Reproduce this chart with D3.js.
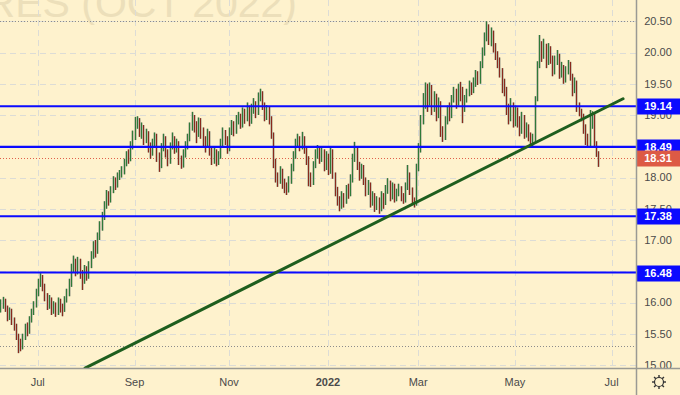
<!DOCTYPE html>
<html>
<head>
<meta charset="utf-8">
<script src="https://cdn.jsdelivr.net/npm/d3@7"></script>
<style>
  html, body { margin: 0; padding: 0; background: #fef2cd; }
  svg { display: block; font-family: "Liberation Sans", Arial, sans-serif; }
</style>
</head>
<body>
<svg id="chart" width="680" height="395"></svg>
<script>
// daily closes, one per trading day starting 2021-06-08
const closes = [
  15.95, 16.02, 15.90, 15.78, 15.85, 15.70, 15.62, 15.45, 15.35, 15.28,
  15.45, 15.60, 15.55, 15.72, 15.85, 15.95, 16.15, 16.30, 16.40, 16.25,
  16.10, 15.95, 16.05, 15.88, 15.95, 15.85, 16.00, 15.92, 15.88, 16.05,
  16.15, 16.30, 16.55, 16.62, 16.50, 16.68, 16.45, 16.35, 16.55, 16.42,
  16.60, 16.75, 16.92, 16.80, 17.05, 17.20, 17.38, 17.55, 17.72, 17.65,
  17.80, 17.95, 17.88, 18.02, 18.05, 18.10, 18.22, 18.35, 18.30, 18.50,
  18.65, 18.88, 18.92, 18.75, 18.80, 18.62, 18.70, 18.50, 18.40, 18.55,
  18.65, 18.35, 18.20, 18.48, 18.60, 18.40, 18.25, 18.50, 18.62, 18.45,
  18.55, 18.30, 18.20, 18.38, 18.50, 18.62, 18.80, 18.95, 18.85, 18.70,
  18.90, 18.75, 18.60, 18.52, 18.70, 18.45, 18.30, 18.40, 18.25, 18.35,
  18.55, 18.70, 18.62, 18.45, 18.72, 18.85, 18.75, 18.92, 18.98, 18.85,
  19.05, 18.95, 19.12, 18.90, 19.10, 19.18, 19.05, 19.30, 19.35, 19.15,
  19.00, 19.10, 18.95, 18.70, 18.25, 18.00, 17.95, 18.10, 17.92, 17.85,
  17.80, 17.95, 18.15, 18.35, 18.55, 18.60, 18.50, 18.62, 18.45, 18.30,
  18.00, 17.92, 18.20, 18.38, 18.45, 18.30, 18.42, 18.18, 18.35, 18.10,
  18.40, 18.05, 17.80, 17.65, 17.55, 17.70, 17.62, 17.80, 17.75, 17.95,
  18.30, 18.45, 18.20, 18.05, 18.15, 17.95, 17.80, 17.88, 17.65, 17.70,
  17.55, 17.62, 17.50, 17.70, 17.60, 17.80, 17.90, 17.72, 17.85, 17.68,
  17.75, 17.82, 17.70, 17.65, 17.85, 18.05, 17.80, 17.62, 17.58, 18.15,
  18.45, 18.90, 19.20, 19.40, 19.30, 19.45, 19.15, 19.30, 19.05, 19.20,
  18.75, 18.65, 18.90, 19.05, 19.00, 19.25, 19.35, 19.20, 19.40, 19.30,
  19.10, 19.25, 19.35, 19.45, 19.40, 19.50, 19.62, 19.55, 19.80, 20.00,
  20.25, 20.40, 20.20, 20.30, 20.10, 19.95, 19.85, 19.70, 19.50, 19.40,
  19.10, 18.95, 19.15, 18.85, 19.05, 18.90, 18.75, 18.95, 18.70, 18.80,
  18.65, 18.55, 18.62, 19.25, 19.80, 20.10, 19.95, 20.10, 19.85, 20.05,
  19.90, 19.70, 19.85, 19.95, 19.65, 19.75, 19.55, 19.70, 19.80, 19.62,
  19.40, 19.50, 19.15, 19.05, 18.98, 18.80, 18.60, 18.52, 18.85, 19.00,
  18.55, 18.40, 18.31
]

const highs = [
  16.05, 16.09, 16.06, 15.95, 15.92, 15.90, 15.76, 15.66, 15.50, 15.42,
  15.50, 15.66, 15.68, 15.78, 15.90, 16.02, 16.22, 16.38, 16.47, 16.44,
  16.30, 16.15, 16.12, 16.08, 16.02, 16.00, 16.08, 16.06, 15.98, 16.10,
  16.22, 16.38, 16.62, 16.75, 16.70, 16.73, 16.70, 16.52, 16.60, 16.58,
  16.66, 16.82, 16.98, 17.00, 17.12, 17.30, 17.45, 17.62, 17.80, 17.78,
  17.86, 18.02, 18.00, 18.08, 18.12, 18.18, 18.30, 18.42, 18.45, 18.58,
  18.75, 18.97, 18.98, 18.95, 18.88, 18.84, 18.78, 18.74, 18.56, 18.62,
  18.72, 18.70, 18.40, 18.55, 18.70, 18.66, 18.45, 18.56, 18.72, 18.66,
  18.62, 18.58, 18.35, 18.45, 18.58, 18.70, 18.88, 19.05, 19.00, 18.90,
  18.96, 18.95, 18.80, 18.66, 18.78, 18.74, 18.50, 18.48, 18.45, 18.42,
  18.62, 18.80, 18.76, 18.66, 18.80, 18.92, 18.90, 19.00, 19.05, 19.02,
  19.12, 19.10, 19.20, 19.15, 19.18, 19.27, 19.22, 19.36, 19.42, 19.38,
  19.20, 19.16, 19.14, 18.98, 18.72, 18.30, 18.08, 18.18, 18.14, 17.98,
  17.92, 18.02, 18.22, 18.42, 18.62, 18.70, 18.66, 18.73, 18.66, 18.50,
  18.34, 18.08, 18.26, 18.45, 18.52, 18.50, 18.50, 18.45, 18.42, 18.38,
  18.50, 18.45, 18.08, 17.85, 17.70, 17.78, 17.75, 17.88, 17.90, 18.05,
  18.38, 18.57, 18.50, 18.25, 18.22, 18.20, 18.00, 17.96, 17.92, 17.78,
  17.75, 17.70, 17.68, 17.78, 17.75, 17.88, 17.99, 17.95, 17.92, 17.90,
  17.82, 17.90, 17.86, 17.75, 17.92, 18.20, 18.08, 17.84, 17.68, 18.22,
  18.55, 19.00, 19.35, 19.52, 19.50, 19.52, 19.48, 19.38, 19.34, 19.28,
  19.22, 18.82, 18.98, 19.15, 19.20, 19.32, 19.45, 19.42, 19.50, 19.53,
  19.45, 19.32, 19.42, 19.55, 19.52, 19.60, 19.72, 19.70, 19.86, 20.08,
  20.32, 20.50, 20.45, 20.40, 20.35, 20.15, 20.02, 19.92, 19.75, 19.58,
  19.45, 19.18, 19.27, 19.20, 19.15, 19.12, 18.98, 19.05, 19.00, 18.88,
  18.85, 18.72, 18.70, 19.30, 19.86, 20.28, 20.18, 20.22, 20.14, 20.15,
  20.10, 19.95, 19.95, 20.04, 19.98, 19.85, 19.80, 19.78, 19.88, 19.85,
  19.66, 19.60, 19.55, 19.20, 19.10, 19.02, 18.85, 18.70, 19.08, 19.06,
  19.02, 18.58, 18.42
]

const lows = [
  15.84, 15.90, 15.85, 15.70, 15.72, 15.64, 15.55, 15.40, 15.19, 15.22,
  15.25, 15.40, 15.46, 15.50, 15.68, 15.80, 15.92, 16.10, 16.25, 16.18,
  16.02, 15.88, 15.90, 15.80, 15.82, 15.77, 15.80, 15.84, 15.78, 15.85,
  16.00, 16.10, 16.25, 16.48, 16.42, 16.45, 16.38, 16.20, 16.30, 16.35,
  16.38, 16.55, 16.70, 16.72, 16.78, 17.00, 17.15, 17.32, 17.50, 17.55,
  17.60, 17.75, 17.80, 17.84, 17.96, 18.00, 18.05, 18.18, 18.22, 18.26,
  18.45, 18.60, 18.78, 18.65, 18.62, 18.52, 18.55, 18.40, 18.30, 18.35,
  18.48, 18.25, 18.09, 18.15, 18.42, 18.32, 18.18, 18.22, 18.45, 18.38,
  18.40, 18.20, 18.14, 18.16, 18.32, 18.45, 18.58, 18.75, 18.72, 18.55,
  18.65, 18.62, 18.48, 18.40, 18.48, 18.35, 18.20, 18.22, 18.18, 18.20,
  18.30, 18.50, 18.52, 18.38, 18.42, 18.68, 18.66, 18.70, 18.85, 18.78,
  18.80, 18.86, 18.90, 18.82, 18.86, 19.02, 18.95, 19.00, 19.22, 19.08,
  18.90, 18.92, 18.85, 18.62, 18.15, 17.92, 17.85, 17.90, 17.82, 17.75,
  17.72, 17.76, 17.90, 18.10, 18.30, 18.48, 18.42, 18.45, 18.38, 18.20,
  17.86, 17.85, 17.88, 18.15, 18.30, 18.22, 18.25, 18.10, 18.12, 18.04,
  18.06, 17.98, 17.70, 17.55, 17.46, 17.50, 17.52, 17.58, 17.66, 17.70,
  17.92, 18.25, 18.12, 17.95, 17.98, 17.88, 17.70, 17.72, 17.52, 17.55,
  17.45, 17.48, 17.42, 17.46, 17.50, 17.56, 17.74, 17.62, 17.65, 17.60,
  17.62, 17.70, 17.62, 17.58, 17.60, 17.80, 17.72, 17.56, 17.52, 17.55,
  18.10, 18.40, 18.85, 19.10, 19.05, 19.15, 19.00, 19.05, 18.90, 18.95,
  18.65, 18.57, 18.60, 18.85, 18.90, 18.95, 19.20, 19.10, 19.15, 19.22,
  18.87, 19.05, 19.20, 19.30, 19.32, 19.35, 19.45, 19.48, 19.50, 19.75,
  19.95, 20.18, 20.12, 20.10, 20.00, 19.88, 19.75, 19.60, 19.35, 19.30,
  19.00, 18.85, 18.90, 18.80, 18.82, 18.80, 18.66, 18.70, 18.62, 18.64,
  18.58, 18.50, 18.48, 18.55, 19.22, 19.75, 19.85, 19.90, 19.75, 19.80,
  19.82, 19.62, 19.65, 19.80, 19.58, 19.60, 19.50, 19.52, 19.65, 19.55,
  19.30, 19.35, 19.05, 18.98, 18.90, 18.70, 18.52, 18.48, 18.50, 18.78,
  18.48, 18.33, 18.17
]

const firstOpen = 15.90
const firstDay = '2021-06-08'

// horizontal support / resistance levels drawn in blue
const levels = [19.14, 18.49, 17.38, 16.48]
const lastPrice = 18.31
// gray dotted range lines
const rangeLines = [20.50, 15.30]
// green trend line, [bar index, price]
const trendLine = [[38.5, 14.95], [283.2, 19.26]]

const priceTicks = [15.00, 15.50, 16.00, 16.50, 17.00, 17.50, 18.00, 18.50, 19.00, 19.50, 20.00, 20.50]
const monthStarts = ['2021-07-01', '2021-09-01', '2021-11-01', '2022-01-03', '2022-03-01', '2022-05-02', '2022-07-01']
const monthLabels = ['Jul', 'Sep', 'Nov', '2022', 'Mar', 'May', 'Jul']

const title = 'SUGAR NO.11 FUTURES (OCT 2022)'

document.addEventListener('DOMContentLoaded', start)

function start () {
  const svg = d3.select('#chart')
  const plotW = 636
  const plotH = 368
  const days = tradingDays(firstDay, 290)
  const x = d3.scaleLinear().domain([0, 278]).range([0.4, 611.6])
  const y = d3.scaleLinear().domain([15, 20.5]).range([365, 21.25])

  svg.append('rect').attr('width', 680).attr('height', 395).attr('fill', '#fef2cd')

  // watermark, top half runs off the page like the original
  svg.append('text')
    .attr('x', 297).attr('y', 16.5)
    .attr('text-anchor', 'end')
    .attr('font-size', 41)
    .attr('fill', '#ecdfba')
    .text(title)

  svg.append('clipPath').attr('id', 'plotClip')
    .append('rect').attr('width', plotW).attr('height', plotH)

  const plot = svg.append('g').attr('clip-path', 'url(#plotClip)')

  drawGrid(plot, x, y, days, plotW, plotH)
  drawRefLines(plot, y, plotW)
  drawBars(plot, x, y)
  drawTrend(plot, x, y)
  drawAxes(svg, x, y, days, plotW, plotH)
}

function tradingDays (from, count) {
  const out = []
  let d = d3.timeParse('%Y-%m-%d')(from)
  while (out.length < count) {
    const wd = d.getDay()
    if (wd !== 0 && wd !== 6) out.push(d)
    d = d3.timeDay.offset(d, 1)
  }
  return out
}

function dayIndex (days, s) {
  const fmt = d3.timeFormat('%Y-%m-%d')
  return days.findIndex(d => fmt(d) === s)
}

function drawGrid (g, x, y, days, w, h) {
  g.selectAll('.hgrid')
    .data(priceTicks)
    .enter().append('line')
    .attr('x1', 0).attr('x2', w)
    .attr('y1', d => Math.round(y(d)) + 0.5)
    .attr('y2', d => Math.round(y(d)) + 0.5)
    .attr('stroke', '#dcdcd6')
    .attr('stroke-dasharray', '6,4')

  g.selectAll('.vgrid')
    .data(monthStarts)
    .enter().append('line')
    .attr('x1', d => Math.round(x(dayIndex(days, d))) + 0.5)
    .attr('x2', d => Math.round(x(dayIndex(days, d))) + 0.5)
    .attr('y1', 0).attr('y2', h)
    .attr('stroke', '#dcdcd6')
    .attr('stroke-dasharray', '6,4')
}

function drawRefLines (g, y, w) {
  g.selectAll('.range')
    .data(rangeLines)
    .enter().append('line')
    .attr('x1', 0).attr('x2', w)
    .attr('y1', d => Math.round(y(d)) + 0.5)
    .attr('y2', d => Math.round(y(d)) + 0.5)
    .attr('stroke', '#8c8c8c')
    .attr('stroke-dasharray', '1,2')

  g.append('line')
    .attr('x1', 0).attr('x2', w)
    .attr('y1', Math.round(y(lastPrice)) + 0.5)
    .attr('y2', Math.round(y(lastPrice)) + 0.5)
    .attr('stroke', '#e0604a')
    .attr('stroke-dasharray', '1,2')
}

function drawBars (g, x, y) {
  const bars = closes.map((c, i) => ({
    i, c, o: i ? closes[i - 1] : firstOpen, h: highs[i], l: lows[i]
  }))

  // light halo from the open/close ticks
  g.append('g').selectAll('rect')
    .data(bars)
    .enter().append('rect')
    .attr('x', d => Math.round(x(d.i)) - 1)
    .attr('width', 3)
    .attr('y', d => y(d.h))
    .attr('height', d => Math.max(1, y(d.l) - y(d.h)))
    .attr('fill', '#a8a692')
    .attr('opacity', 0.6)

  g.append('g').selectAll('line')
    .data(bars)
    .enter().append('line')
    .attr('x1', d => Math.round(x(d.i)) + 0.5)
    .attr('x2', d => Math.round(x(d.i)) + 0.5)
    .attr('y1', d => y(d.h))
    .attr('y2', d => y(d.l))
    .attr('stroke', d => d.c >= d.o ? '#2f7a38' : '#8a2a1c')
    .attr('stroke-width', 1)

  // blue levels sit on top of bars
  g.selectAll('.level')
    .data(levels)
    .enter().append('line')
    .attr('x1', 0).attr('x2', 640)
    .attr('y1', d => y(d))
    .attr('y2', d => y(d))
    .attr('stroke', '#0a0aff')
    .attr('stroke-width', 2.2)
}

function drawTrend (g, x, y) {
  g.append('line')
    .attr('x1', x(trendLine[0][0])).attr('y1', y(trendLine[0][1]))
    .attr('x2', x(trendLine[1][0])).attr('y2', y(trendLine[1][1]))
    .attr('stroke', '#1e5e1e')
    .attr('stroke-width', 3)
    .attr('stroke-linecap', 'round')
}

function drawAxes (svg, x, y, days, w, h) {
  const tagValues = levels.concat([lastPrice])
  // tick labels that a price tag fully hides are left out
  const shown = priceTicks.filter(t => !tagValues.some(v => Math.abs(y(t) - y(v)) < 4))

  const right = svg.append('g')
  right.selectAll('text')
    .data(shown)
    .enter().append('text')
    .attr('x', 658).attr('y', d => y(d))
    .attr('dy', '0.35em')
    .attr('text-anchor', 'middle')
    .attr('font-size', 11)
    .attr('fill', '#4a4a4a')
    .text(d => d.toFixed(2))

  const tags = levels.map(v => ({ v, fill: '#0a0aff' }))
  tags.push({ v: lastPrice, fill: '#dd5a45' })
  const tag = right.selectAll('.tag')
    .data(tags)
    .enter().append('g')
  tag.append('rect')
    .attr('x', 636).attr('width', 44)
    .attr('y', d => Math.round(y(d.v)) - 7.5)
    .attr('height', 16)
    .attr('fill', d => d.fill)
  tag.append('text')
    .attr('x', 658).attr('y', d => Math.round(y(d.v)) + 0.5)
    .attr('dy', '0.36em')
    .attr('text-anchor', 'middle')
    .attr('font-size', 11)
    .attr('font-weight', 'bold')
    .attr('fill', '#fff')
    .text(d => d.v.toFixed(2))

  // bottom strip covers the labels that run under it
  svg.append('rect')
    .attr('x', 0).attr('y', h).attr('width', 680).attr('height', 395 - h)
    .attr('fill', '#fef2cd')

  svg.append('line')
    .attr('x1', 0).attr('x2', 680).attr('y1', h + 0.5).attr('y2', h + 0.5)
    .attr('stroke', '#9a9a94').attr('stroke-width', 1.5)
  svg.append('line')
    .attr('x1', w + 0.5).attr('x2', w + 0.5).attr('y1', 0).attr('y2', 395)
    .attr('stroke', '#9a9a94').attr('stroke-width', 1.5)

  svg.append('g').selectAll('text')
    .data(monthStarts)
    .enter().append('text')
    .attr('x', d => x(dayIndex(days, d)))
    .attr('y', 386)
    .attr('text-anchor', 'middle')
    .attr('font-size', 11)
    .attr('font-weight', (d, i) => monthLabels[i] === '2022' ? 'bold' : 'normal')
    .attr('fill', '#4a4a4a')
    .text((d, i) => monthLabels[i])

  drawGear(svg, 659, 382)
}

function drawGear (svg, cx, cy) {
  const g = svg.append('g').attr('transform', `translate(${cx},${cy})`)
  g.append('circle').attr('r', 4.5)
    .attr('fill', 'none').attr('stroke', '#333').attr('stroke-width', 1.2)
  g.selectAll('line')
    .data(d3.range(8))
    .enter().append('line')
    .attr('x1', d => Math.cos(d * Math.PI / 4) * 4.5)
    .attr('y1', d => Math.sin(d * Math.PI / 4) * 4.5)
    .attr('x2', d => Math.cos(d * Math.PI / 4) * 7)
    .attr('y2', d => Math.sin(d * Math.PI / 4) * 7)
    .attr('stroke', '#333').attr('stroke-width', 1.4)
}
</script>
</body>
</html>
